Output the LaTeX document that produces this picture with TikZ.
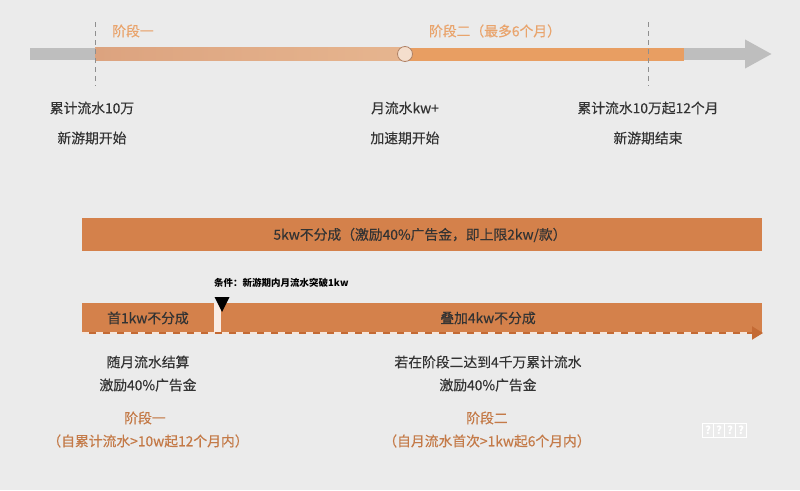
\documentclass[tikz,border=0pt]{standalone}
\usepackage{fontspec}
\setmainfont{Noto Sans CJK SC}
\newfontfamily\cnmed[FakeBold=0.35]{Noto Sans CJK SC}
\usetikzlibrary{positioning}
\usetikzlibrary{arrows.meta}
\definecolor{bggray}{HTML}{EBEBEB}
\definecolor{axisgray}{HTML}{BEBEBE}
\definecolor{peach}{HTML}{DCA37F}
\definecolor{peachlight}{HTML}{E6B58F}
\definecolor{tangerine}{HTML}{E89E62}
\definecolor{rust}{HTML}{D4814B}
\definecolor{rustdark}{HTML}{C46A34}
\definecolor{stagetop}{HTML}{E9A46C}
\definecolor{stagelow}{HTML}{C47A48}
\definecolor{txtgray}{HTML}{333333}
\tikzstyle{lbl} = [text=txtgray, font=\cnmed\fontsize{13.8}{16}\selectfont, inner sep=0pt]
\tikzstyle{stage} = [text=stagetop, font=\cnmed\fontsize{13.8}{16}\selectfont, inner sep=0pt]
\tikzstyle{stagenote} = [text=stagelow, font=\cnmed\fontsize{13.8}{16}\selectfont, inner sep=0pt]
\tikzstyle{markline} = [axisgray!75!black, dash pattern=on 5pt off 4pt, line width=0.8pt]
\tikzstyle{qbox} = [draw=white, line width=0.9pt, text=white, minimum width=10.5pt, minimum height=14pt, inner sep=0pt, font=\fontsize{11}{12}\selectfont\bfseries]

\begin{document}
\begin{tikzpicture}[x=1pt,y=-1pt]
      \fill[bggray] (0,0) rectangle (800,490);
      \useasboundingbox (0,0) rectangle (800,490);
      % timeline
      \coordinate (t0) at (30,54);
      \coordinate (t1) at (772,54);
      \draw[axisgray, line width=12pt, -{Triangle[width=27pt,length=27pt]}] (t0)--(t1);
      \fill[left color=peach, right color=peachlight] (95,47.5) rectangle (405,60.5);
      \fill[tangerine] (405,47.5) rectangle (684,60.5);
      \node (kw) at (405,54) [circle, minimum size=15pt, inner sep=0pt, fill=peachlight!45!white, draw=peach!80!black, line width=0.8pt] {};
      \coordinate (m1a) at (95,22);
      \coordinate (m1b) at (95,86);
      \coordinate (m2a) at (648,22);
      \coordinate (m2b) at (648,86);
      \draw[markline] (m1a)--(m1b);
      \draw[markline] (m2a)--(m2b);
      \node (s1) at (133,31) [stage] {阶段一};
      \node (s2) at (495,31) [stage] {阶段二（最多6个月）};
      \node (a1) at (92,108) [lbl] {累计流水10万};
      \node (a2) at (92,138) [lbl] {新游期开始};
      \node (b1) at (405,108) [lbl] {月流水kw+};
      \node (b2) at (405,138) [lbl] {加速期开始};
      \node (c1) at (648,108) [lbl] {累计流水10万起12个月};
      \node (c2) at (648,138) [lbl] {新游期结束};
      % upper bar
      \fill[rust] (82,218) rectangle (762,251);
      \node (top) at (420,235) [lbl] {5kw不分成（激励40\%广告金，即上限2kw/款）};
      % lower bar
      \fill[rust] (82,303) rectangle (214,334);
      \fill[white!85!rust] (214,303) rectangle (221,334);
      \fill[rust] (221,303) rectangle (762,334);
      \coordinate (d0) at (82,333);
      \coordinate (d1) at (763,333);
      \draw[rustdark, line width=2pt, -{Triangle[width=13pt,length=11pt]}] (d0)--(d1);
      \draw[white!80!rust, line width=2pt, dash pattern=on 7pt off 7pt] (82,333)--(750,333);
      \node (cond) at (214,283) [anchor=west, inner sep=0pt, font=\fontsize{9.5}{11}\selectfont\bfseries, text=black] {条件：新游期内月流水突破1kw};
      \fill[black] (214.5,297) -- (229.5,297) -- (222,312) -- cycle;
      \node (f1) at (148,318) [lbl] {首1kw不分成};
      \node (f2) at (488,318) [lbl] {叠加4kw不分成};
      % notes
      \node (n1) at (148,362) [lbl] {随月流水结算};
      \node (n2) at (148,385) [lbl] {激励40\%广告金};
      \node (n3) at (488,362) [lbl] {若在阶段二达到4千万累计流水};
      \node (n4) at (488,385) [lbl] {激励40\%广告金};
      \node (p1) at (145,418) [stagenote] {阶段一};
      \node (p2) at (148,441) [stagenote] {（自累计流水>10w起12个月内）};
      \node (p3) at (487,418) [stagenote] {阶段二};
      \node (p4) at (487,441) [stagenote] {（自月流水首次>1kw起6个月内）};
      \node (q1) at (708,430) [qbox] {?};
      \node (q2) at (719,430) [qbox] {?};
      \node (q3) at (730,430) [qbox] {?};
      \node (q4) at (741,430) [qbox] {?};
\end{tikzpicture}
\end{document}
